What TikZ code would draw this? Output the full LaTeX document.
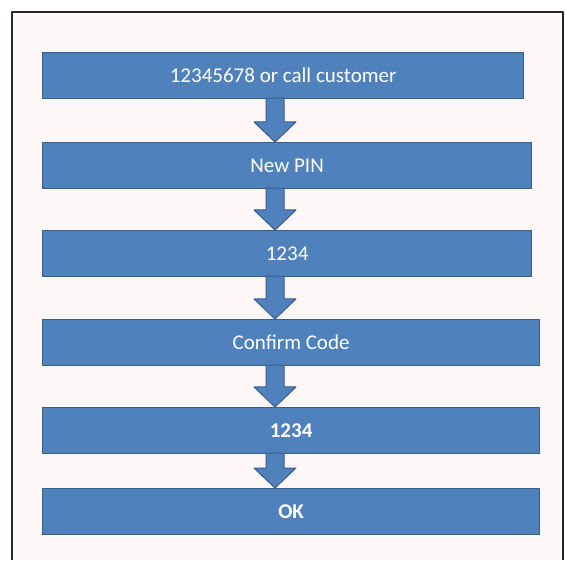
\documentclass[tikz,border=0pt]{standalone}
\usepackage{fontspec}
\setmainfont{Carlito}
\usetikzlibrary{calc}
\definecolor{boxblue}{RGB}{79,129,189}
\definecolor{boxedge}{RGB}{56,93,138}
\definecolor{slidebg}{RGB}{253,247,247}
\definecolor{framegray}{RGB}{38,38,38}

\begin{document}
\begin{tikzpicture}[x=1pt, y=1pt, line join=round,
  stepbox/.style={draw=boxedge, line width=1.2pt, fill=boxblue, text=white,
    anchor=north west, inner sep=0pt, minimum height=46pt,
    font=\fontsize{21}{25}\selectfont},
  flow/.style={draw=boxedge, line width=1pt, fill=boxblue}]
\def\sl{224}
\def\sr{242}
\def\hl{212}
\def\hr{254}
\def\hm{233}
\def\hh{20}
\useasboundingbox (0,0) rectangle (565,560);
\fill[slidebg] (12,0) rectangle (563,548);
\draw[framegray, line width=2.5pt] (12,0) -- (12,548) -- (563,548) -- (563,0);
\node[stepbox, minimum width=481pt] (b1) at (42,508) {12345678 or call customer};
\node[stepbox, minimum width=489pt] (b2) at (42,418) {New PIN};
\node[stepbox, minimum width=489pt] (b3) at (42,330) {1234};
\node[stepbox, minimum width=497pt] (b4) at (42,241) {Confirm Code};
\node[stepbox, minimum width=497pt] (b5) at (42,153) {\bfseries 1234};
\node[stepbox, minimum width=497pt] (b6) at (42,72) {\bfseries OK};
\draw[flow] let \p1=(b1.south west), \p2=(b2.north west) in
  (\x1+\sl pt,\y1+1pt) -- (\x1+\sl pt,\y2+\hh pt) -- (\x1+\hl pt,\y2+\hh pt) -- (\x1+\hm pt,\y2)
  -- (\x1+\hr pt,\y2+\hh pt) -- (\x1+\sr pt,\y2+\hh pt) -- (\x1+\sr pt,\y1+1pt) -- cycle;
\draw[flow] let \p1=(b2.south west), \p2=(b3.north west) in
  (\x1+\sl pt,\y1+1pt) -- (\x1+\sl pt,\y2+\hh pt) -- (\x1+\hl pt,\y2+\hh pt) -- (\x1+\hm pt,\y2)
  -- (\x1+\hr pt,\y2+\hh pt) -- (\x1+\sr pt,\y2+\hh pt) -- (\x1+\sr pt,\y1+1pt) -- cycle;
\draw[flow] let \p1=(b3.south west), \p2=(b4.north west) in
  (\x1+\sl pt,\y1+1pt) -- (\x1+\sl pt,\y2+\hh pt) -- (\x1+\hl pt,\y2+\hh pt) -- (\x1+\hm pt,\y2)
  -- (\x1+\hr pt,\y2+\hh pt) -- (\x1+\sr pt,\y2+\hh pt) -- (\x1+\sr pt,\y1+1pt) -- cycle;
\draw[flow] let \p1=(b4.south west), \p2=(b5.north west) in
  (\x1+\sl pt,\y1+1pt) -- (\x1+\sl pt,\y2+\hh pt) -- (\x1+\hl pt,\y2+\hh pt) -- (\x1+\hm pt,\y2)
  -- (\x1+\hr pt,\y2+\hh pt) -- (\x1+\sr pt,\y2+\hh pt) -- (\x1+\sr pt,\y1+1pt) -- cycle;
\draw[flow] let \p1=(b5.south west), \p2=(b6.north west) in
  (\x1+\sl pt,\y1+1pt) -- (\x1+\sl pt,\y2+\hh pt) -- (\x1+\hl pt,\y2+\hh pt) -- (\x1+\hm pt,\y2)
  -- (\x1+\hr pt,\y2+\hh pt) -- (\x1+\sr pt,\y2+\hh pt) -- (\x1+\sr pt,\y1+1pt) -- cycle;
\end{tikzpicture}
\end{document}
